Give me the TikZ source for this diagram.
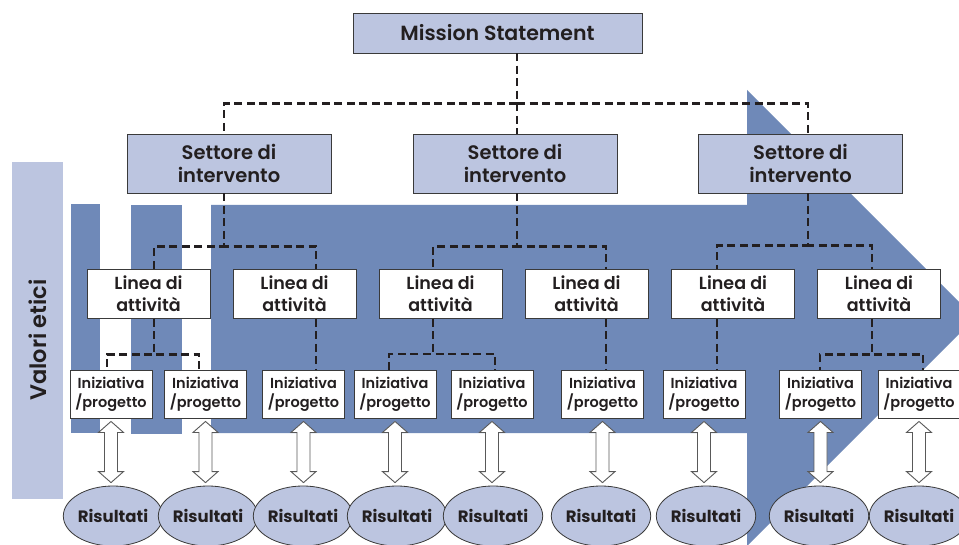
\documentclass[tikz,border=0pt]{standalone}
\usepackage{fontspec}
\setmainfont{Poppins}[UprightFont={* SemiBold}, BoldFont={* Bold}]
\usetikzlibrary{calc,shapes.geometric}

\definecolor{arrowblue}{HTML}{6F89B8}
\definecolor{paleblue}{HTML}{BCC5E0}
\definecolor{ink}{HTML}{231F20}
\definecolor{frame}{HTML}{3A3A3A}

\tikzset{
  box/.style={draw=frame, line width=0.9pt, rectangle, inner sep=0pt,
    align=center, text=ink},
  missionbox/.style={box, fill=paleblue, minimum width=289pt, minimum height=40pt,
    font=\fontsize{20.5}{24}\selectfont},
  sectorbox/.style={box, fill=paleblue, minimum width=204pt, minimum height=59pt,
    font=\fontsize{19.5}{23.5}\selectfont},
  linebox/.style={box, fill=white, minimum width=123pt, minimum height=49pt,
    font=\fontsize{17.5}{22}\selectfont},
  projbox/.style={box, fill=white, minimum width=82pt, minimum height=48pt,
    font=\fontsize{14.5}{19}\selectfont},
  resultnode/.style={ellipse, draw=frame, line width=0.8pt, fill=paleblue,
    minimum width=90pt, minimum height=60pt, inner sep=0pt, text=ink,
    font=\bfseries\fontsize{16.5}{20}\selectfont},
  tree/.style={draw=ink, line width=2.4pt, dash pattern=on 8pt off 4.5pt},
  twoway/.style={draw=black!65, fill=white, line width=0.9pt,
    to path={ -- ++(12.5,11) -- ++(-6,0) -- ($(\tikztotarget)+(6.5,-11)$)
      -- ++(6,0) -- (\tikztotarget) -- ++(-12.5,-11) -- ++(6,0)
      -- ($(\tikztostart)+(-6.5,11)$) -- ++(-6,0) -- cycle}}
}

\begin{document}
\begin{tikzpicture}[x=1pt,y=-1pt]
  \useasboundingbox (0,0) rectangle (959,545);
  \clip (0,0) rectangle (959,545);
  \fill[white] (0,0) rectangle (959,545);

  % ethical values band
  \fill[paleblue] (12,162) rectangle (63,499);
  \node[rotate=90, text=ink, font=\fontsize{22.5}{26}\selectfont]
    (values) at (38,340) {Valori etici};

  % large arrow with the two leading stripes
  \fill[arrowblue] (71,204) rectangle (100,433);
  \fill[arrowblue] (131,205) rectangle (182,434);
  \fill[arrowblue] (211,205) -- (747,205) -- (747,90) -- (975,318)
    -- (747,546) -- (747,433) -- (211,433) -- cycle;

  % nodes
  \node[missionbox] (ms) at (497.5,33) {Mission Statement};

  \node[sectorbox] (s1) at (229,163.5)   {Settore di\\intervento};
  \node[sectorbox] (s2) at (515,163.5)   {Settore di\\intervento};
  \node[sectorbox] (s3) at (800.5,163.5) {Settore di\\intervento};

  \foreach \n/\x in {l1/148.5, l2/294.5, l3/440.5, l4/586.5, l5/733, l6/879}
    \node[linebox] (\n) at (\x,294) {Linea di\\attività};

  \foreach \n/\x in {p1/111, p2/205.5, p3/303.5, p4/395, p5/492,
                     p6/602.5, p7/704, p8/820.5, p9/919}
    \node[projbox] (\n) at (\x,394) {Iniziativa\\/progetto};

  \foreach \n/\x in {r1/113, r2/208, r3/303, r4/397, r5/493,
                     r6/601, r7/706, r8/819, r9/919}
    \node[resultnode] (\n) at (\x,516) {Risultati};

  % mission -> sectors
  \draw[tree] ([xshift=19.5pt]ms.south) -- ++(0,50) -| ([xshift=-5pt]s1.north);
  \draw[tree] ([xshift=19.5pt]ms.south) -- ++(0,50) -| ([xshift=2pt]s2.north);
  \draw[tree] ([xshift=19.5pt]ms.south) -- ++(0,50) -| ([xshift=7.5pt]s3.north);

  % sectors -> lines of activity
  \draw[tree] ([xshift=-5pt]s1.south) -- ++(0,53) -| ([xshift=5.5pt]l1.north);
  \draw[tree] ([xshift=-5pt]s1.south) -- ++(0,53) -| ([xshift=21.5pt]l2.north);
  \draw[tree] ([xshift=2pt]s2.south) -- ++(0,53) -| ([xshift=-7.5pt]l3.north);
  \draw[tree] ([xshift=2pt]s2.south) -- ++(0,53) -| ([xshift=19.5pt]l4.north);
  \draw[tree] ([xshift=7.5pt]s3.south) -- ++(0,52) -| ([xshift=-16pt]l5.north);
  \draw[tree] ([xshift=7.5pt]s3.south) -- ++(0,52) -| ([xshift=-7pt]l6.north);

  % lines of activity -> initiatives
  \draw[tree] ([xshift=5.5pt]l1.south) -- ++(0,35.5) -| ([xshift=-4pt]p1.north);
  \draw[tree] ([xshift=5.5pt]l1.south) -- ++(0,35.5) -| ([xshift=-6.5pt]p2.north);
  \draw[tree] ([xshift=21.5pt]l2.south) -- ([xshift=12.5pt]p3.north);
  \draw[tree] ([xshift=-7.5pt]l3.south) -- ++(0,35) -| ([xshift=-6pt]p4.north);
  \draw[tree] ([xshift=-7.5pt]l3.south) -- ++(0,35) -| ([xshift=3pt]p5.north);
  \draw[tree] ([xshift=19.5pt]l4.south) -- ([xshift=3.5pt]p6.north);
  \draw[tree] ([xshift=-16pt]l5.south) -- ([xshift=13pt]p7.north);
  \draw[tree] ([xshift=-7pt]l6.south) -- ++(0,35.5) -| ([xshift=-0.5pt]p8.north);
  \draw[tree] ([xshift=-7pt]l6.south) -- ++(0,35.5) -| ([xshift=4pt]p9.north);

  % initiatives <-> results
  \foreach \i in {1,...,9} {
    \path ([yshift=-3pt]p\i.south) coordinate (t\i);
    \path (t\i |- r\i.north) ++(0,-3) coordinate (b\i);
    \draw[twoway] (t\i) to (b\i);
  }
\end{tikzpicture}
\end{document}
